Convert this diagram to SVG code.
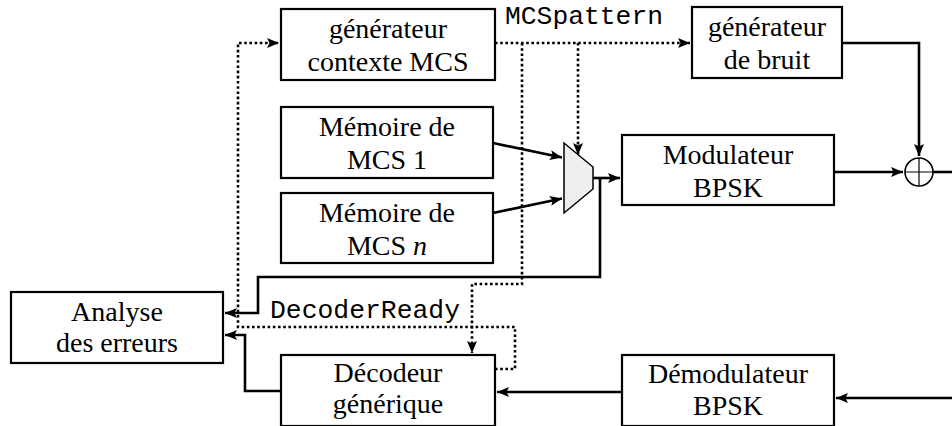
<svg xmlns="http://www.w3.org/2000/svg" width="952" height="426" viewBox="0 0 952 426">
<defs>
<style>
.box{fill:#fff;stroke:#000;stroke-width:2.2}
.t{font-family:'Liberation Serif','DejaVu Serif',serif;font-size:28px;fill:#000;text-anchor:middle}
.m{font-family:'Liberation Mono','DejaVu Sans Mono',monospace;font-size:26px;fill:#000}
.w{fill:none;stroke:#000;stroke-width:2.6}
.d{fill:none;stroke:#000;stroke-width:2.6;stroke-dasharray:2.6 2.6}
.a{marker-end:url(#ar)}
</style>
<marker id="ar" markerUnits="userSpaceOnUse" markerWidth="14" markerHeight="12" refX="12" refY="5" orient="auto">
<path d="M0,0 L12,5 L0,10 L2.5,5 z" fill="#000"/>
</marker>
</defs>
<rect width="952" height="426" fill="#fff"/>
<g id="connectors">
<path class="d a" d="M495,43 H690"/>
<path class="d a" d="M522,43 V284 H472 V353"/>
<path class="d a" d="M578,43 V155"/>
<path class="d a" d="M495,369 H515 V327 H238 V43 H279"/>
<path class="w a" d="M593,178 H620"/>
<path class="w a" d="M600,178 V277 H258 V313 H225"/>
<path class="w a" d="M834,172 H903"/>
<path class="w a" d="M842,43 H919 V156"/>
<path class="w" d="M933,172 H952"/>
<path class="w a" d="M952,398 H836"/>
<path class="w a" d="M622,392 H497"/>
<path class="w a" d="M281,391 H245 V335 H225"/>
<path class="w a" d="M493,143 L562,157.5"/>
<path class="w a" d="M493,213 L562,198.5"/>
</g>
<g id="label-mcspattern"><text class="m" x="505" y="24" textLength="158" lengthAdjust="spacingAndGlyphs">MCSpattern</text></g>
<g id="label-decoderready"><text class="m" x="270" y="318" textLength="190" lengthAdjust="spacingAndGlyphs">DecoderReady</text></g>
<g id="gen-contexte"><rect class="box" x="281" y="9" width="214" height="71"/><text class="t" x="388" y="38">générateur</text><text class="t" x="388" y="71">contexte MCS</text></g>
<g id="gen-bruit"><rect class="box" x="692" y="7" width="150" height="71"/><text class="t" x="767" y="36">générateur</text><text class="t" x="767" y="69">de bruit</text></g>
<g id="mem1"><rect class="box" x="281" y="107" width="212" height="71"/><text class="t" x="387" y="136">Mémoire de</text><text class="t" x="387" y="169">MCS 1</text></g>
<g id="memn"><rect class="box" x="281" y="193" width="212" height="70"/><text class="t" x="387" y="222">Mémoire de</text><text class="t" x="387" y="255">MCS <tspan font-style="italic">n</tspan></text></g>
<g id="mux"><polygon points="564,143 593,167 593,189 564,213" fill="#eeeeee" stroke="#000" stroke-width="1.5"/></g>
<g id="modulateur"><rect class="box" x="622" y="135" width="212" height="70"/><text class="t" x="728" y="164">Modulateur</text><text class="t" x="728" y="197">BPSK</text></g>
<g id="sum"><circle cx="919" cy="172" r="14" fill="#fff" stroke="#000" stroke-width="1.6"/><path d="M905,172 H933 M919,158 V186" stroke="#000" stroke-width="1.2"/></g>
<g id="analyse"><rect class="box" x="11" y="292" width="212" height="71"/><text class="t" x="117" y="321">Analyse</text><text class="t" x="117" y="352">des erreurs</text></g>
<g id="decodeur"><rect class="box" x="281" y="355" width="214" height="71"/><text class="t" x="388" y="382">Décodeur</text><text class="t" x="388" y="413">générique</text></g>
<g id="demodulateur"><rect class="box" x="622" y="355" width="212" height="71"/><text class="t" x="728" y="383">Démodulateur</text><text class="t" x="728" y="415">BPSK</text></g>
</svg>
